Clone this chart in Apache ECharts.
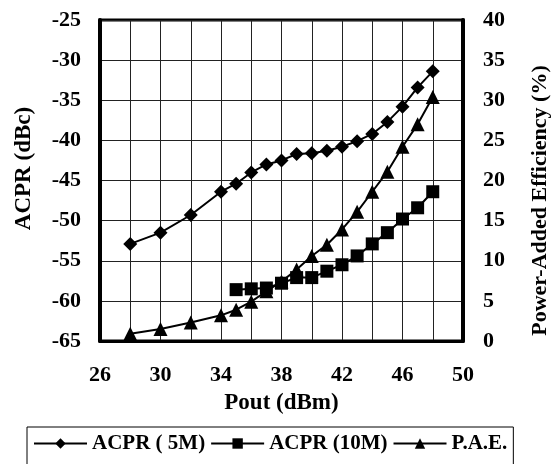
<!DOCTYPE html>
<html>
<head>
<meta charset="utf-8">
<script src="https://cdn.jsdelivr.net/npm/echarts@6/dist/echarts.min.js"></script>
<style>
  html, body { margin: 0; padding: 0; background: #fff; }
  #chart { width: 559px; height: 464px; }
</style>
</head>
<body>
<div id="chart"></div>
<script>
// Pout (dBm) sample points
const poutAll = [28, 30, 32, 34, 35, 36, 37, 38, 39, 40, 41, 42, 43, 44, 45, 46, 47, 48];
const acpr5m = [-52.9, -51.5, -49.3, -46.4, -45.4, -44.0, -43.0, -42.5, -41.7, -41.6, -41.3, -40.8, -40.1, -39.2, -37.7, -35.8, -33.4, -31.4];
const pae = [0.9, 1.5, 2.3, 3.2, 3.9, 4.9, 6.2, 7.4, 8.9, 10.6, 12.0, 13.9, 16.1, 18.6, 21.1, 24.2, 27.0, 30.4];

const pout10m = [35, 36, 37, 38, 39, 40, 41, 42, 43, 44, 45, 46, 47, 48];
const acpr10m = [-58.6, -58.5, -58.4, -57.8, -57.1, -57.1, -56.3, -55.5, -54.4, -52.9, -51.5, -49.8, -48.4, -46.4];

const font = "'Liberation Serif', 'Times New Roman', serif";

function pairs(xs, ys) {
  return xs.map((x, i) => [x, ys[i]]);
}

const chart = echarts.init(document.getElementById('chart'));

const lineStyle = { color: '#000', width: 2 };
const labelStyle = { color: '#000', fontFamily: font, fontWeight: 'bold', fontSize: 22 };
const nameStyle = { color: '#000', fontFamily: font, fontWeight: 'bold', fontSize: 23 };

chart.setOption({
  animation: false,
  grid: {
    left: 100, right: 88, top: 20, bottom: 123,
    show: true, borderColor: '#000', borderWidth: 3
  },
  legend: {
    left: 27, top: 427,
    padding: [6, 6, 20, 6],
    borderColor: '#000', borderWidth: 1,
    itemWidth: 53, itemHeight: 13, itemGap: 5,
    textStyle: { color: '#000', fontFamily: font, fontWeight: 'bold', fontSize: 21 },
    data: ['ACPR ( 5M)', 'ACPR (10M)', 'P.A.E.']
  },
  xAxis: {
    type: 'value', min: 26, max: 50, interval: 2,
    name: 'Pout (dBm)', nameLocation: 'middle', nameGap: 51,
    nameTextStyle: nameStyle,
    axisLine: { show: true, lineStyle: { color: '#000', width: 3 } },
    axisTick: { show: false },
    axisLabel: Object.assign({
      margin: 23,
      formatter: v => ((v - 26) % 4 === 0 ? String(v) : '')
    }, labelStyle),
    splitLine: { show: true, lineStyle: { color: '#222', width: 1 } }
  },
  yAxis: [
    {
      type: 'value', min: -65, max: -25, interval: 5,
      name: 'ACPR (dBc)', nameLocation: 'middle', nameGap: 64,
      nameTextStyle: Object.assign({}, nameStyle, { padding: [0, 0, 0, 24] }),
      axisLine: { show: true, lineStyle: { color: '#000', width: 4 } },
      axisTick: { show: false },
      axisLabel: Object.assign({ margin: 19 }, labelStyle),
      splitLine: { show: true, lineStyle: { color: '#222', width: 1 } }
    },
    {
      type: 'value', min: 0, max: 40, interval: 5,
      name: 'Power-Added Efficiency (%)', nameLocation: 'middle', nameGap: 66,
      nameRotate: 90,
      nameTextStyle: Object.assign({}, nameStyle, { fontSize: 22, padding: [0, 40, 0, 0] }),
      axisLine: { show: true, lineStyle: { color: '#000', width: 4 } },
      axisTick: { show: false },
      axisLabel: Object.assign({ margin: 20 }, labelStyle),
      splitLine: { show: false }
    }
  ],
  series: [
    {
      name: 'ACPR ( 5M)', type: 'line', yAxisIndex: 0,
      data: pairs(poutAll, acpr5m),
      symbol: 'diamond', symbolSize: 14,
      itemStyle: { color: '#000' }, lineStyle: lineStyle
    },
    {
      name: 'ACPR (10M)', type: 'line', yAxisIndex: 0,
      data: pairs(pout10m, acpr10m),
      symbol: 'rect', symbolSize: 13,
      itemStyle: { color: '#000' }, lineStyle: lineStyle
    },
    {
      name: 'P.A.E.', type: 'line', yAxisIndex: 1,
      data: pairs(poutAll, pae),
      symbol: 'triangle', symbolSize: 14,
      itemStyle: { color: '#000' }, lineStyle: lineStyle
    }
  ]
});
</script>
</body>
</html>
